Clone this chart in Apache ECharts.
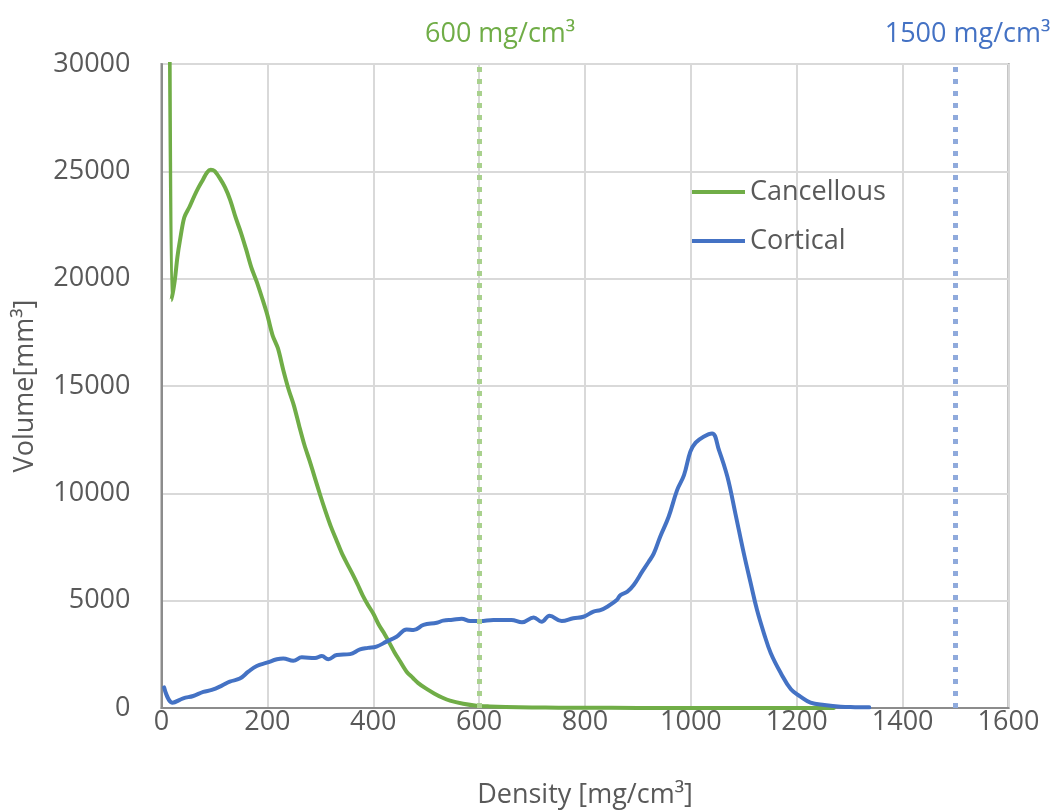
<!DOCTYPE html>
<html>
<head>
<meta charset="utf-8">
<title>Density histogram</title>
<script src="https://cdn.jsdelivr.net/npm/echarts@6/dist/echarts.min.js"></script>
<style>
  html, body { margin: 0; padding: 0; background: #ffffff; }
  #chart { width: 1056px; height: 811px; }
</style>
</head>
<body>
<div id="chart"></div>
<script>
// Volume per density bin for the two bone compartments
const cancellousDensity = [12, 19, 25, 30, 35, 43, 53, 62, 70, 78, 86, 93, 100, 110, 120, 130, 140, 150, 160, 170, 180, 190, 200, 210, 220, 230, 240, 250, 260, 270, 280, 290, 300, 310, 320, 330, 340, 350, 360, 370, 380, 390, 400, 410, 420, 431, 440, 450, 463, 475, 485, 500, 515, 530, 545, 570, 595, 620, 650, 700, 750, 800, 900, 1000, 1100, 1200, 1270];
const cancellousVolume  = [60000, 19000, 19900, 21000, 21800, 22850, 23350, 23850, 24250, 24600, 24950, 25070, 25020, 24680, 24250, 23650, 22850, 22150, 21350, 20500, 19850, 19100, 18300, 17350, 16750, 15750, 14850, 14100, 13150, 12250, 11500, 10700, 9900, 9150, 8450, 7850, 7250, 6750, 6280, 5780, 5250, 4800, 4400, 3900, 3500, 3010, 2600, 2200, 1690, 1400, 1160, 900, 680, 490, 340, 200, 110, 75, 50, 25, 15, 10, 5, 3, 2, 1, 0];

const corticalDensity = [5, 21, 41, 60, 79, 95, 114, 129, 148, 164, 180, 199, 218, 230, 249, 265, 290, 303, 315, 331, 356, 375, 390, 406, 425, 444, 463, 476, 495, 520, 532, 550, 567, 583, 602, 627, 661, 681, 703, 718, 733, 756, 778, 797, 816, 829, 842, 860, 867, 880, 892, 908, 920, 930, 942, 958, 974, 987, 999, 1009, 1024, 1040, 1053, 1069, 1084, 1100, 1113, 1125, 1138, 1151, 1170, 1189, 1207, 1226, 1252, 1283, 1310, 1337];
const corticalVolume  = [960, 250, 450, 560, 750, 840, 1040, 1230, 1370, 1690, 1960, 2110, 2270, 2310, 2200, 2360, 2330, 2420, 2270, 2470, 2510, 2730, 2800, 2860, 3090, 3320, 3660, 3630, 3870, 3970, 4070, 4110, 4160, 4050, 4050, 4100, 4100, 3990, 4220, 4020, 4300, 4050, 4180, 4250, 4490, 4560, 4720, 5030, 5260, 5420, 5730, 6350, 6800, 7200, 7980, 8910, 10150, 10850, 11940, 12360, 12640, 12790, 12020, 10770, 9070, 7200, 5810, 4560, 3480, 2550, 1620, 870, 530, 250, 140, 60, 40, 30];

// Threshold densities marked with dotted reference lines
const thresholds = [600, 1500];
const thresholdLabels = ['600 mg/cm³', '1500 mg/cm³'];

const xTicks = [0, 200, 400, 600, 800, 1000, 1200, 1400, 1600];
const yTicks = [0, 5000, 10000, 15000, 20000, 25000, 30000];

const zip = (xs, ys) => xs.map((x, i) => [x, ys[i]]);

const FONT = '"Open Sans", "Noto Sans", sans-serif';
const GREEN = '#70AD47';
const BLUE = '#4472C4';
const GREEN_LIGHT = '#A9D18E';
const BLUE_LIGHT = '#8FAADC';
const LABEL = '#595959';

const chart = echarts.init(document.getElementById('chart'), null, { renderer: 'canvas' });

chart.setOption({
  animation: false,
  backgroundColor: '#ffffff',
  textStyle: { fontFamily: FONT },
  grid: {
    left: 161.5, right: 47.5, top: 64, bottom: 103,
    outerBoundsMode: 'none',
    containLabel: false,
    show: true, borderColor: '#8C8C8C', borderWidth: 2, backgroundColor: 'transparent'
  },
  legend: {
    orient: 'vertical',
    left: 687, top: 172,
    icon: 'rect',
    itemWidth: 53, itemHeight: 4, itemGap: 19,
    textStyle: { fontFamily: FONT, fontSize: 27, color: LABEL, lineHeight: 30 },
    data: ['Cancellous', 'Cortical']
  },
  xAxis: {
    type: 'value',
    min: xTicks[0], max: xTicks[xTicks.length - 1], interval: 200,
    name: 'Density [mg/cm³]',
    nameLocation: 'middle', nameGap: 74,
    nameTextStyle: { fontFamily: FONT, fontSize: 27, color: LABEL },
    axisLine: { show: true, lineStyle: { color: '#8C8C8C', width: 2 } },
    axisTick: { show: false },
    axisLabel: { fontFamily: FONT, fontSize: 27, color: LABEL, margin: 1, formatter: v => String(v) },
    splitLine: { show: true, lineStyle: { color: '#D9D9D9', width: 2 } }
  },
  yAxis: {
    type: 'value',
    min: yTicks[0], max: yTicks[yTicks.length - 1], interval: 5000,
    name: 'Volume[mm³]',
    nameLocation: 'middle', nameGap: 123,
    nameTextStyle: { fontFamily: FONT, fontSize: 27, color: LABEL },
    axisLine: { show: true, lineStyle: { color: '#8C8C8C', width: 2 } },
    axisTick: { show: false },
    axisLabel: { fontFamily: FONT, fontSize: 27, color: LABEL, margin: 31, formatter: v => String(v) },
    splitLine: { show: true, lineStyle: { color: '#D9D9D9', width: 2 } }
  },
  series: [
    {
      name: 'Cancellous',
      type: 'line',
      data: zip(cancellousDensity, cancellousVolume),
      symbol: 'none',
      smooth: 0.3,
      clip: true,
      color: GREEN,
      lineStyle: { color: GREEN, width: 4, cap: 'round', join: 'round' },
      z: 3,
      markLine: {
        silent: true,
        symbol: ['none', 'none'],
        lineStyle: { color: GREEN_LIGHT, width: 5, type: [5, 7], opacity: 1 },
        label: {
          show: true, position: 'end', formatter: thresholdLabels[0],
          fontFamily: FONT, fontSize: 27, color: GREEN, offset: [21, -11]
        },
        data: [[{ coord: [thresholds[0], yTicks[0]] }, { coord: [thresholds[0], yTicks[yTicks.length - 1]] }]]
      }
    },
    {
      name: 'Cortical',
      type: 'line',
      data: zip(corticalDensity, corticalVolume),
      symbol: 'none',
      smooth: 0.4,
      clip: true,
      color: BLUE,
      lineStyle: { color: BLUE, width: 4, cap: 'round', join: 'round' },
      z: 4,
      markLine: {
        silent: true,
        symbol: ['none', 'none'],
        lineStyle: { color: BLUE_LIGHT, width: 5, type: [5, 7], opacity: 1 },
        label: {
          show: true, position: 'end', formatter: thresholdLabels[1],
          fontFamily: FONT, fontSize: 27, color: BLUE, offset: [12, -11]
        },
        data: [[{ coord: [thresholds[1], yTicks[0]] }, { coord: [thresholds[1], yTicks[yTicks.length - 1]] }]]
      }
    }
  ]
});
</script>
</body>
</html>
